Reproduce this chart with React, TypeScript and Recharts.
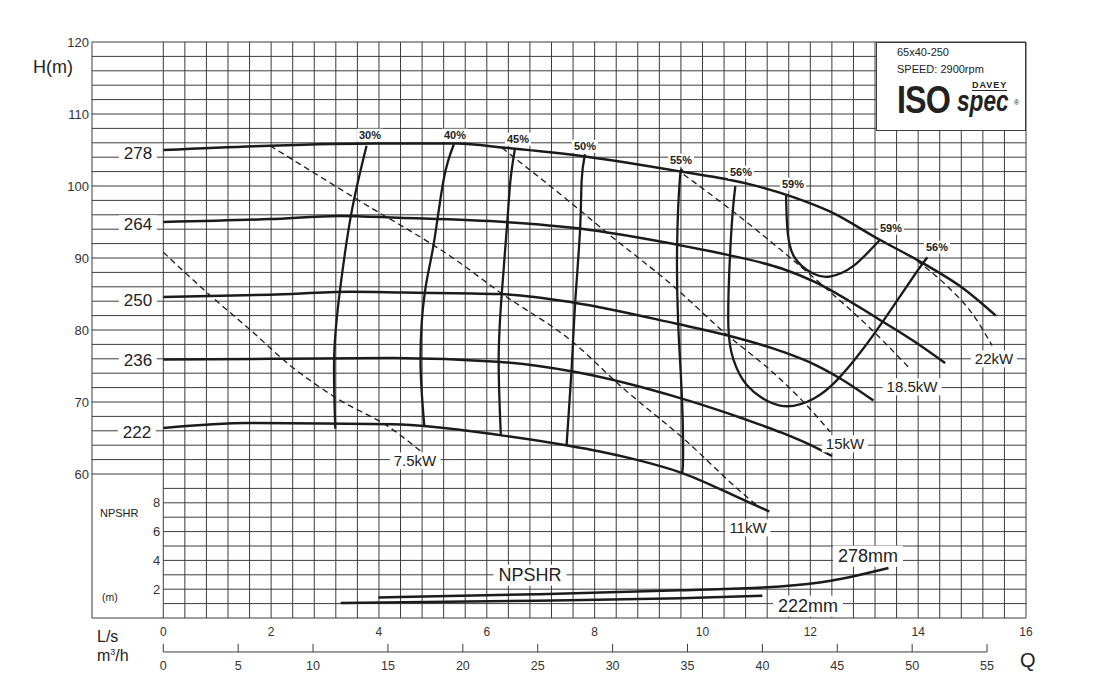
import React from 'react'
import { ComposedChart, Line, XAxis, YAxis, ReferenceLine } from 'recharts'

const FONT = '"Liberation Sans", Arial, Helvetica, sans-serif'
const INK = '#1b1b1b'
const GRID = '#3c3c3c'
const OFF = 8 // body margin

const Q_MIN = -1.322
const Q_MAX = 16
const LS_TO_M3 = 3.6

const lsTicks = [0, 2, 4, 6, 8, 10, 12, 14, 16]
const m3Ticks = [0, 5, 10, 15, 20, 25, 30, 35, 40, 45, 50, 55]
const headTicks = [60, 70, 80, 90, 100, 110, 120]
const npshTicks = [2, 4, 6, 8]

// H-Q curves per impeller diameter [L/s, m]
const dia278 = [[0, 105], [1.98, 105.6], [3.96, 105.9], [5.45, 105.9], [6.34, 105.3], [7.82, 104.1], [9.6, 102.0], [10.79, 100.4], [11.63, 98.6], [12.38, 96.4], [13.27, 92.6], [14.06, 89.4], [14.85, 85.7], [15.44, 82.0]]
const dia264 = [[0, 95], [1.98, 95.4], [3.27, 95.85], [4.36, 95.6], [6.34, 95.0], [7.72, 94.1], [9.5, 91.9], [10.49, 90.4], [11.48, 88.5], [12.08, 86.7], [13.27, 81.5], [13.91, 78.5], [14.5, 75.4]]
const dia250 = [[0, 84.6], [1.98, 84.9], [3.47, 85.3], [4.46, 85.2], [6.24, 85.0], [7.62, 83.8], [9.5, 80.9], [10.49, 79.2], [11.48, 77.0], [12.08, 75.2], [12.57, 73.2], [13.17, 70.2]]
const dia236 = [[0, 75.9], [1.98, 76.0], [4.26, 76.1], [6.19, 75.6], [7.62, 74.2], [9.65, 70.4], [10.79, 67.6], [11.48, 65.7], [11.98, 64.1], [12.4, 62.5]]
const dia222 = [[0, 66.4], [1.58, 67.1], [4.26, 66.9], [6.24, 65.4], [7.47, 64.0], [8.12, 63.1], [8.71, 62.1], [9.6, 60.2], [10.79, 56.3], [11.24, 54.8]]

// iso-efficiency lines [L/s, m]
const eff30 = [[3.77, 105.6], [3.49, 96.3], [3.28, 85.7], [3.17, 76.5], [3.19, 66.3]]
const eff40 = [[5.39, 105.8], [5.2, 100.9], [5.01, 91.7], [4.85, 85.2], [4.77, 76.0], [4.84, 66.8]]
const eff45 = [[6.52, 105.1], [6.44, 100.9], [6.38, 95.0], [6.28, 85.3], [6.22, 76.0], [6.26, 65.4]]
const eff50 = [[7.82, 104.4], [7.76, 100.9], [7.73, 94.0], [7.64, 83.9], [7.57, 74.2], [7.48, 64.0]]
const eff55 = [[9.62, 102.1], [9.58, 100.9], [9.53, 91.9], [9.55, 80.8], [9.62, 70.4], [9.64, 62.1], [9.62, 60.2]]
const eff56 = [[10.61, 100.0], [10.57, 97.2], [10.51, 90.3], [10.48, 80.6], [10.57, 76.0], [10.83, 72.3], [11.44, 69.5], [12.06, 70.45], [12.49, 73.0], [12.93, 76.9], [13.42, 82.0], [13.92, 87.5], [14.17, 90.1]]
const eff59 = [[11.55, 98.7], [11.57, 94.5], [11.69, 90.3], [12.06, 87.8], [12.38, 87.45], [12.8, 88.9], [13.3, 92.6]]

// power lines [L/s, m]
const kw7_5 = [[0, 90.8], [0.87, 84.8], [1.6, 80.1], [2.35, 75.1], [3.22, 70.5], [4.21, 66.4], [4.8, 63.0]]
const kw11 = [[1.98, 105.6], [3.58, 98.2], [5.45, 89.6], [6.25, 85.2], [7.6, 78.3], [8.47, 72.3], [9.65, 64.9], [10.89, 56.4], [10.99, 55.8]]
const kw15 = [[6.28, 105.3], [7.7, 96.8], [8.23, 93.5], [9.52, 85.7], [10.33, 80.15], [11.44, 73.2], [11.81, 70.5], [12.37, 65.85]]
const kw18_5 = [[9.65, 101.6], [10.51, 96.8], [11.44, 91.2], [12.38, 85.2], [13.06, 80.6], [13.82, 74.85]]
const kw22 = [[13.98, 89.6], [14.53, 86.15], [15.03, 82.0], [15.37, 77.85]]

// NPSHR [L/s, m]
const npsh278 = [[3.99, 1.43], [6.93, 1.65], [9.59, 1.92], [11.44, 2.19], [12.38, 2.59], [13.45, 3.47]]
const npsh222 = [[3.29, 1.04], [6.93, 1.2], [9.59, 1.37], [11.11, 1.55]]

const toPts = (arr: number[][], k = 1) => arr.map(([q, v]) => ({ q: q * k, v }))

const gridQ = Array.from({ length: 41 }, (_, i) => Math.round(i * 4) / 10)
const gridH = Array.from({ length: 39 }, (_, i) => 42 + i * 2)

// m3/h scale bar sits below the L/s axis; expressed on the npsh scale
const M3_BAR = -2.36
const M3_TICK_TOP = -1.8

function Tag({ x, y, size = 15, bold = false, pad = 2, children }: any) {
  return (
    <div
      style={{
        position: 'absolute',
        left: x - OFF,
        top: y - OFF,
        transform: 'translate(-50%, -50%)',
        fontSize: size,
        fontWeight: bold ? 700 : 400,
        background: '#fff',
        padding: `0 ${pad}px`,
        lineHeight: 1.15,
        whiteSpace: 'nowrap',
        color: '#222',
        fontFamily: FONT,
      }}
    >
      {children}
    </div>
  )
}

const common = {
  dataKey: 'v',
  dot: false,
  activeDot: false,
  isAnimationActive: false,
  stroke: INK,
}

export default function App() {
  return (
    <div style={{ position: 'relative', width: 1087, height: 690, fontFamily: FONT }}>
      <ComposedChart width={1087} height={690} margin={{ top: 34, right: 69, bottom: 16, left: 44 }}>
        <XAxis
          xAxisId="ls"
          dataKey="q"
          type="number"
          domain={[Q_MIN, Q_MAX]}
          ticks={lsTicks}
          interval={0}
          allowDataOverflow
          height={34}
          tickSize={0}
          tickMargin={9}
          tickLine={false}
          axisLine={{ stroke: GRID, strokeWidth: 1 }}
          tick={{ fontSize: 12, fill: '#333', fontFamily: FONT }}
        />
        <XAxis
          xAxisId="m3"
          dataKey="q"
          type="number"
          domain={[Q_MIN * LS_TO_M3, Q_MAX * LS_TO_M3]}
          ticks={m3Ticks}
          interval={0}
          allowDataOverflow
          height={30}
          tickSize={0}
          tickMargin={9}
          tickLine={false}
          axisLine={false}
          tick={{ fontSize: 12.5, fill: '#333', fontFamily: FONT }}
        />
        <YAxis
          yAxisId="h"
          type="number"
          domain={[40, 120]}
          ticks={headTicks}
          interval={0}
          allowDataOverflow
          width={40}
          tickSize={0}
          tickMargin={3}
          tickLine={false}
          axisLine={{ stroke: GRID, strokeWidth: 1 }}
          tick={{ fontSize: 13, fill: '#333', fontFamily: FONT }}
        />
        <YAxis
          yAxisId="npsh"
          type="number"
          domain={[0, 40]}
          ticks={npshTicks}
          interval={0}
          allowDataOverflow
          mirror
          tickSize={0}
          tickMargin={61}
          tickLine={false}
          axisLine={false}
          tick={{ fontSize: 13, fill: '#333', fontFamily: FONT }}
        />

        {/* grid */}
        {gridQ.map((q) => (
          <ReferenceLine key={`gq${q}`} xAxisId="ls" yAxisId="h" x={q} stroke={GRID} strokeWidth={1} />
        ))}
        {gridH.map((h) =>
          h >= 60 ? (
            <ReferenceLine key={`gh${h}`} xAxisId="ls" yAxisId="h" y={h} stroke={GRID} strokeWidth={1} />
          ) : (
            <ReferenceLine
              key={`gh${h}`}
              xAxisId="ls"
              yAxisId="h"
              segment={[{ x: 0, y: h }, { x: Q_MAX, y: h }]}
              stroke={GRID}
              strokeWidth={1}
            />
          ),
        )}
        <ReferenceLine xAxisId="ls" yAxisId="h" y={120} stroke={GRID} strokeWidth={1} />

        {/* m3/h scale bar */}
        <ReferenceLine
          xAxisId="m3"
          yAxisId="npsh"
          ifOverflow="visible"
          segment={[{ x: 0, y: M3_BAR }, { x: 55, y: M3_BAR }]}
          stroke={GRID}
          strokeWidth={1}
        />
        {m3Ticks.map((t) => (
          <ReferenceLine
            key={`m3t${t}`}
            xAxisId="m3"
            yAxisId="npsh"
            ifOverflow="visible"
            segment={[{ x: t, y: M3_BAR }, { x: t, y: M3_TICK_TOP }]}
            stroke={GRID}
            strokeWidth={1}
          />
        ))}

        {/* power */}
        {[kw7_5, kw11, kw15, kw18_5, kw22].map((d, i) => (
          <Line
            key={`kw${i}`}
            {...common}
            xAxisId="ls"
            yAxisId="h"
            data={toPts(d)}
            type="monotone"
            strokeWidth={1.3}
            strokeDasharray="6 4"
          />
        ))}

        {/* efficiency */}
        {[eff30, eff40, eff45, eff50, eff55, eff56, eff59].map((d, i) => (
          <Line key={`ef${i}`} {...common} xAxisId="ls" yAxisId="h" data={toPts(d)} type="natural" strokeWidth={2.3} />
        ))}

        {/* impeller diameters */}
        {[dia278, dia264, dia250, dia236, dia222].map((d, i) => (
          <Line key={`dia${i}`} {...common} xAxisId="ls" yAxisId="h" data={toPts(d)} type="monotone" strokeWidth={2.5} />
        ))}

        {/* NPSHR: 278mm on the L/s scale, 222mm on the m3/h scale */}
        <Line {...common} xAxisId="ls" yAxisId="npsh" data={toPts(npsh278)} type="monotone" strokeWidth={2.5} />
        <Line
          {...common}
          xAxisId="m3"
          yAxisId="npsh"
          data={toPts(npsh222, LS_TO_M3)}
          type="monotone"
          strokeWidth={2.5}
        />
      </ComposedChart>

      {/* axis titles */}
      <div style={{ position: 'absolute', left: 33 - OFF, top: 57 - OFF, fontSize: 18, color: '#222' }}>H(m)</div>
      <div style={{ position: 'absolute', left: 97 - OFF, top: 628 - OFF, fontSize: 16, color: '#222' }}>L/s</div>
      <div style={{ position: 'absolute', left: 97 - OFF, top: 647 - OFF, fontSize: 16, color: '#222' }}>
        m<sup style={{ fontSize: 9 }}>3</sup>/h
      </div>
      <div style={{ position: 'absolute', left: 1020 - OFF, top: 649 - OFF, fontSize: 20, color: '#222' }}>Q</div>
      <div style={{ position: 'absolute', left: 100 - OFF, top: 507 - OFF, fontSize: 11, color: '#222' }}>NPSHR</div>
      <div style={{ position: 'absolute', left: 102 - OFF, top: 591 - OFF, fontSize: 10.5, color: '#222' }}>(m)</div>

      {/* impeller labels */}
      <Tag x={138} y={154} size={17} pad={5}>278</Tag>
      <Tag x={138} y={225} size={17} pad={5}>264</Tag>
      <Tag x={138} y={301} size={17} pad={5}>250</Tag>
      <Tag x={138} y={361} size={17} pad={5}>236</Tag>
      <Tag x={137} y={433} size={17} pad={5}>222</Tag>

      {/* efficiency labels */}
      <Tag x={370} y={135} size={11} bold>30%</Tag>
      <Tag x={455} y={135} size={11} bold>40%</Tag>
      <Tag x={518} y={139} size={11} bold>45%</Tag>
      <Tag x={585} y={146} size={11} bold>50%</Tag>
      <Tag x={681} y={160} size={11} bold>55%</Tag>
      <Tag x={741} y={172} size={11} bold>56%</Tag>
      <Tag x={793} y={184} size={11} bold>59%</Tag>
      <Tag x={891} y={228} size={11} bold>59%</Tag>
      <Tag x={937} y={247} size={11} bold>56%</Tag>

      {/* power labels */}
      <Tag x={415} y={461} size={15} pad={4}>7.5kW</Tag>
      <Tag x={748} y={528} size={15} pad={4}>11kW</Tag>
      <Tag x={845} y={444} size={15} pad={4}>15kW</Tag>
      <Tag x={912} y={387} size={15} pad={4}>18.5kW</Tag>
      <Tag x={994} y={359} size={15} pad={4}>22kW</Tag>

      {/* NPSHR labels */}
      <Tag x={530} y={575} size={18} pad={5}>NPSHR</Tag>
      <Tag x={868} y={556} size={18} pad={5}>278mm</Tag>
      <Tag x={808} y={606} size={18} pad={5}>222mm</Tag>

      {/* model box */}
      <div
        style={{
          position: 'absolute',
          left: 876 - OFF,
          top: 42 - OFF,
          width: 150,
          height: 89,
          background: '#fff',
          border: `1px solid ${GRID}`,
          boxSizing: 'border-box',
          color: '#222',
        }}
      >
        <div style={{ position: 'absolute', left: 20, top: 1, fontSize: 11, lineHeight: '17px' }}>
          65x40-250
          <br />
          SPEED: 2900rpm
        </div>
        <div
          style={{
            position: 'absolute',
            left: 20,
            top: 38,
            fontSize: 38,
            fontWeight: 900,
            lineHeight: 1,
            transform: 'scaleX(0.85)',
            transformOrigin: 'left top',
            letterSpacing: -1,
          }}
        >
          ISO
        </div>
        <div
          style={{
            position: 'absolute',
            left: 80,
            top: 50.5,
            fontSize: 29,
            fontWeight: 700,
            fontStyle: 'italic',
            lineHeight: 0.5,
            transform: 'scaleX(0.78)',
            transformOrigin: 'left top',
          }}
        >
          spec
        </div>
        <div
          style={{
            position: 'absolute',
            left: 95,
            top: 38,
            fontSize: 9,
            fontWeight: 700,
            letterSpacing: 1,
            lineHeight: 1,
            borderBottom: '1.5px solid #222',
          }}
        >
          DAVEY
        </div>
        <div style={{ position: 'absolute', left: 137, top: 56, fontSize: 7 }}>®</div>
      </div>
    </div>
  )
}
